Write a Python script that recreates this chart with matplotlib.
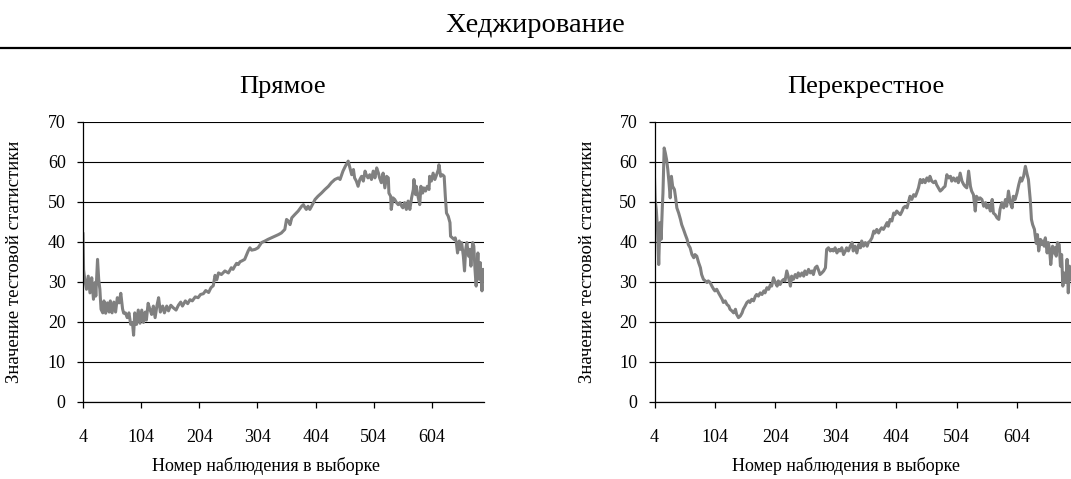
import matplotlib
matplotlib.use('Agg')
import matplotlib.pyplot as plt
from matplotlib.lines import Line2D

plt.rcParams['font.family'] = ['Liberation Serif', 'DejaVu Serif']

direct_obs = [4, 5, 7, 10, 13, 16, 19, 22, 25, 26, 29, 31, 33, 35, 38, 40, 43, 46, 49, 51,
              54, 57, 60, 63, 66, 69, 72, 74, 77, 80, 83, 86, 89, 91, 93, 96, 99, 102, 105, 108,
              111, 113, 116, 119, 122, 125, 128, 131, 134, 137, 141, 144, 148, 151, 155, 159, 164, 168, 172, 175,
              180, 184, 188, 192, 197, 202, 206, 211, 215, 220, 224, 228, 231, 234, 237, 242, 248, 254, 259, 262,
              265, 268, 271, 274, 277, 282, 288, 291, 294, 300, 305, 311, 317, 322, 328, 334, 340, 345, 351, 354,
              357, 360, 363, 368, 374, 380, 383, 386, 388, 391, 394, 397, 403, 408, 414, 420, 426, 431, 437, 443,
              446, 451, 455, 460, 463, 466, 469, 471, 474, 477, 480, 483, 486, 489, 491, 494, 497, 500, 503, 506,
              509, 512, 514, 517, 520, 523, 526, 529, 530, 533, 534, 537, 540, 543, 546, 549, 552, 554, 557, 560,
              563, 566, 569, 572, 573, 576, 577, 580, 583, 585, 588, 590, 593, 596, 599, 600, 603, 606, 609, 612,
              615, 616, 619, 622, 625, 627, 629, 632, 635, 636, 639, 642, 644, 646, 648, 651, 653, 655, 658, 660,
              662, 664, 667, 669, 671, 674, 676, 678, 680, 683, 685, 687, 690, 692, 693]
direct_val = [42.0, 33.0, 30.6, 28.1, 31.4, 27.2, 31.0, 25.6, 29.8, 26.4, 35.6, 30.6, 28.1, 23.1, 22.2, 25.2, 22.1, 24.7, 22.4, 25.2,
              22.2, 24.9, 22.4, 26.0, 24.7, 27.1, 23.2, 22.1, 22.2, 21.0, 22.2, 19.3, 19.8, 16.6, 22.2, 19.3, 22.9, 19.6, 22.9, 19.8,
              22.4, 20.4, 24.6, 23.1, 21.8, 23.9, 21.0, 23.9, 26.0, 22.4, 23.9, 22.2, 23.9, 22.7, 24.1, 23.5, 22.9, 24.1, 24.9, 23.9,
              25.2, 24.5, 25.5, 25.2, 26.2, 26.0, 26.8, 27.0, 27.8, 27.3, 28.5, 29.0, 31.6, 30.5, 32.2, 31.8, 32.7, 32.2, 33.5, 33.1,
              33.9, 34.6, 34.3, 35.0, 35.2, 35.6, 37.7, 38.5, 37.9, 38.1, 38.5, 39.8, 40.2, 40.6, 41.0, 41.4, 41.8, 42.2, 43.1, 45.6,
              45.2, 44.3, 46.0, 46.8, 47.7, 48.9, 49.3, 48.5, 48.1, 48.9, 48.1, 48.9, 50.6, 51.4, 52.2, 53.1, 53.9, 54.8, 55.6, 56.0,
              55.6, 57.7, 58.9, 60.2, 58.5, 56.8, 58.1, 56.0, 55.2, 53.9, 55.6, 56.4, 55.2, 57.7, 56.8, 56.0, 56.8, 55.6, 57.7, 56.0,
              58.5, 57.2, 56.0, 54.8, 57.2, 53.5, 56.4, 56.0, 52.2, 51.4, 48.1, 51.0, 50.6, 49.8, 49.3, 49.8, 48.9, 48.5, 49.8, 48.1,
              50.2, 48.1, 51.0, 53.1, 55.6, 51.8, 53.9, 51.4, 49.3, 53.9, 52.2, 53.5, 52.7, 53.9, 53.1, 56.4, 55.2, 57.2, 55.6, 56.8,
              58.1, 59.3, 56.4, 56.8, 56.4, 51.4, 47.2, 46.4, 44.8, 41.4, 41.0, 40.6, 41.0, 39.8, 37.2, 40.2, 38.1, 39.8, 36.4, 32.7,
              38.1, 39.8, 36.4, 38.1, 33.9, 39.8, 38.9, 33.1, 28.9, 37.2, 30.6, 34.8, 27.7, 33.1, 30.5]

cross_obs = [4, 5, 7, 9, 11, 12, 13, 15, 17, 18, 20, 22, 24, 26, 28, 30, 32, 34, 37, 39,
             41, 44, 47, 49, 52, 55, 58, 60, 63, 66, 69, 71, 74, 77, 80, 82, 85, 88, 91, 93,
             96, 99, 102, 104, 107, 110, 113, 116, 118, 121, 124, 127, 129, 132, 135, 138, 140, 143, 146, 149,
             151, 154, 157, 160, 162, 165, 168, 171, 173, 176, 179, 182, 185, 187, 190, 193, 196, 198, 201, 204,
             207, 209, 212, 215, 218, 220, 223, 226, 229, 231, 234, 237, 240, 242, 245, 248, 251, 253, 256, 259,
             262, 265, 267, 270, 273, 276, 278, 281, 284, 287, 289, 292, 295, 298, 300, 303, 306, 309, 311, 314,
             317, 320, 322, 325, 328, 331, 333, 336, 339, 342, 345, 347, 350, 353, 356, 358, 361, 364, 367, 369,
             372, 375, 378, 380, 383, 386, 389, 391, 394, 397, 400, 402, 405, 408, 411, 414, 416, 419, 422, 425,
             427, 430, 433, 436, 438, 441, 444, 447, 449, 452, 455, 458, 460, 463, 466, 469, 471, 474, 477, 480,
             482, 485, 488, 491, 494, 496, 499, 502, 505, 507, 510, 513, 516, 518, 521, 524, 527, 529, 532, 535,
             537, 539, 541, 543, 546, 549, 552, 554, 557, 560, 563, 565, 568, 571, 574, 576, 579, 582, 585, 587,
             590, 593, 596, 598, 601, 604, 607, 610, 612, 615, 618, 621, 623, 626, 628, 630, 633, 634, 636, 638,
             640, 643, 645, 647, 649, 651, 654, 656, 658, 660, 663, 665, 667, 669, 671, 674, 676, 678, 680, 682,
             685, 687, 689, 691, 693]
cross_val = [56.0, 50.6, 48.0, 43.1, 34.3, 39.8, 44.8, 40.6, 48.9, 52.2, 63.5, 62.2, 60.6, 58.1, 54.8, 51.0, 56.4, 53.9, 53.1, 51.0,
             48.5, 47.2, 45.6, 44.3, 43.1, 41.8, 40.6, 39.3, 38.5, 36.8, 36.0, 36.8, 36.4, 34.8, 33.5, 31.8, 30.6, 30.2, 29.8, 30.2,
             29.8, 28.9, 28.1, 27.7, 28.1, 27.2, 26.4, 25.6, 24.8, 25.2, 24.3, 23.9, 23.1, 22.7, 22.2, 23.1, 21.8, 21.0, 21.4, 22.2,
             23.1, 23.9, 24.8, 25.2, 24.8, 25.6, 25.2, 26.4, 26.8, 26.4, 27.2, 26.8, 27.7, 27.2, 28.5, 28.1, 29.3, 28.9, 31.0, 29.8,
             28.9, 30.2, 29.3, 30.2, 30.6, 30.2, 32.7, 31.0, 28.9, 31.4, 30.6, 31.8, 31.0, 32.2, 31.4, 32.2, 31.4, 32.7, 31.8, 33.1,
             32.2, 32.7, 31.8, 33.5, 33.9, 32.7, 31.8, 32.2, 32.7, 33.5, 38.1, 38.5, 37.7, 38.1, 37.7, 38.5, 37.2, 38.1, 37.7, 38.5,
             36.8, 37.7, 38.5, 37.7, 38.9, 39.8, 37.7, 38.9, 37.2, 39.3, 38.5, 40.2, 38.9, 39.8, 38.9, 39.8, 40.2, 41.0, 42.7, 42.2,
             43.1, 42.2, 43.1, 43.5, 43.1, 43.9, 44.8, 43.9, 45.6, 45.2, 47.2, 46.8, 47.7, 47.2, 46.8, 47.7, 48.5, 48.9, 48.5, 50.2,
             51.4, 50.6, 51.8, 51.4, 52.2, 53.5, 55.6, 54.8, 55.6, 54.8, 56.0, 55.2, 56.4, 55.2, 54.8, 55.2, 54.3, 53.5, 52.7, 53.1,
             53.5, 53.9, 56.8, 56.0, 56.4, 55.2, 56.0, 55.2, 56.0, 54.8, 57.2, 55.2, 54.3, 53.9, 53.5, 57.7, 53.9, 52.7, 51.8, 47.7,
             51.4, 51.0, 50.6, 51.0, 50.6, 48.9, 49.8, 48.5, 49.3, 47.7, 50.6, 47.2, 46.8, 46.0, 45.6, 48.1, 49.8, 48.5, 50.6, 48.9,
             52.7, 49.8, 48.5, 51.4, 50.6, 52.2, 54.3, 56.0, 55.2, 56.4, 58.9, 56.8, 55.6, 50.6, 45.6, 44.3, 43.1, 41.8, 39.6, 41.8,
             37.7, 40.6, 39.3, 40.2, 38.9, 41.0, 37.2, 39.8, 38.1, 34.3, 38.9, 37.2, 38.5, 36.4, 39.8, 39.3, 33.9, 36.8, 28.9, 32.2,
             29.8, 35.6, 27.2, 33.9, 30.6]

x_ticks = [4, 104, 204, 304, 404, 504, 604]
y_ticks = [0, 10, 20, 30, 40, 50, 60, 70]

W, H = 1071, 479
fig = plt.figure(figsize=(W / 100, H / 100), dpi=100)


def px_axes(x0, y0, x1, y1):
    # axes box given in picture pixels (top-left origin)
    return fig.add_axes([x0 / W, 1 - y1 / H, (x1 - x0) / W, (y1 - y0) / H])


# axes, data, title, title centre, x-label centre, y-label x
panels = [
    (px_axes(83, 122, 484, 401.5), direct_obs, direct_val, 'Прямое', 283, 266, 15),
    (px_axes(654.5, 122, 1071, 401.5), cross_obs, cross_val, 'Перекрестное', 866, 846, 587),
]

for ax, obs, val, title, cx, xlx, ylx in panels:
    ax.plot(obs, val, color='#808080', lw=2.2)
    ax.set_xlim(4, 693.5)
    ax.set_ylim(0, 70)
    ax.set_xticks(x_ticks)
    ax.set_yticks(y_ticks)
    ax.yaxis.grid(True, color='black', lw=0.8)
    ax.set_axisbelow(True)
    for side in ['top', 'right']:
        ax.spines[side].set_visible(False)
    for side in ['left', 'bottom']:
        ax.spines[side].set_color('black')
        ax.spines[side].set_linewidth(0.9)
    ax.tick_params(axis='x', direction='out', length=4.5, width=0.9, pad=15, labelsize=13)
    ax.tick_params(axis='y', direction='out', length=4.5, width=0.9, pad=8, labelsize=13)
    fig.text(cx / W, 1 - 87 / H, title, ha='center', va='center', fontsize=19)
    fig.text(xlx / W, 1 - 466 / H, 'Номер наблюдения в выборке', ha='center', va='center', fontsize=13)
    fig.text(ylx / W, 1 - 262 / H, 'Значение тестовой статистики', ha='center', va='center',
             rotation=90, fontsize=13.5)

fig.text(0.5, 1 - 26 / H, 'Хеджирование', ha='center', va='center', fontsize=20.5)
fig.add_artist(Line2D([0, 1], [1 - 47.5 / H, 1 - 47.5 / H], color='black', lw=1.6,
                      transform=fig.transFigure))

fig.savefig('out.png', dpi=100)
